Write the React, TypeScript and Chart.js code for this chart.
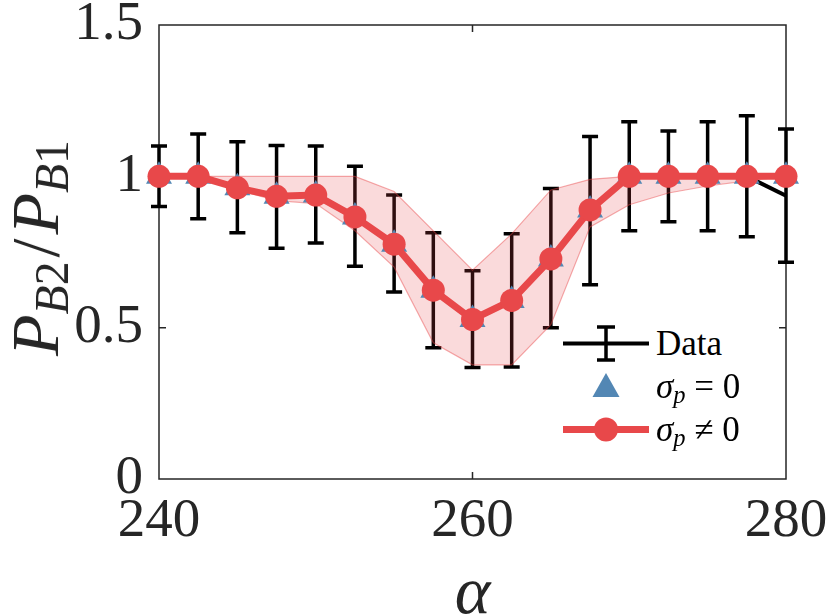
import { useEffect, useRef } from "react";
import { Chart, registerables } from "chart.js";

Chart.register(...registerables);

// alpha values along the x axis
const alphas = [240, 242.5, 245, 247.5, 250, 252.5, 255, 257.5, 260, 262.5, 265, 267.5, 270, 272.5, 275, 277.5, 280];
// measured data: mean and half error bar
const dataMean = [1.0, 1.0, 0.964, 0.932, 0.94, 0.868, 0.778, 0.624, 0.528, 0.59, 0.73, 0.887, 1.0, 1.0, 1.0, 1.0, 0.936];
const dataErr = [0.1, 0.14, 0.15, 0.17, 0.16, 0.165, 0.16, 0.19, 0.16, 0.22, 0.23, 0.245, 0.18, 0.15, 0.18, 0.2, 0.22];
// model with sigma_p = 0 (triangles)
const modelZero = [1.0, 1.0, 0.962, 0.934, 0.938, 0.866, 0.776, 0.624, 0.527, 0.59, 0.727, 0.889, 1.0, 1.0, 1.0, 1.0, 1.0];
// model with sigma_p != 0 (circles) and its shaded band
const modelSigma = [1.0, 1.0, 0.962, 0.934, 0.938, 0.866, 0.776, 0.624, 0.527, 0.59, 0.727, 0.889, 1.0, 1.0, 1.0, 1.0, 1.0];
const bandUpper = [1.0, 1.0, 1.0, 1.0, 1.0, 1.0, 0.95, 0.82, 0.69, 0.81, 0.955, 0.99, 1.0, 1.0, 1.0, 1.0, 1.0];
const bandLower = [1.0, 1.0, 0.955, 0.92, 0.91, 0.82, 0.7, 0.45, 0.377, 0.377, 0.51, 0.833, 0.906, 0.945, 0.968, 0.985, 1.0];

const xTicks = [240, 260, 280];
const yTicks = [0, 0.5, 1, 1.5];
const xMinorTicks = [260];
const yMinorTicks = [0.5, 1];

const RED = "#e8484a";
const BLUE = "#5387b4";
const AXIS = "#262626";
const SERIF = "'Liberation Serif', 'DejaVu Serif', serif";

const pts = (ys: number[]) => alphas.map((x, i) => ({ x, y: ys[i] }));

const framePlugin = {
  id: "frame",
  beforeDatasetsDraw(chart: any) {
    const { ctx, chartArea: a, scales } = chart;
    ctx.save();
    ctx.strokeStyle = AXIS;
    ctx.lineWidth = 1.5;
    ctx.strokeRect(a.left, a.top, a.right - a.left, a.bottom - a.top);
    const len = 7;
    ctx.beginPath();
    xMinorTicks.forEach((v) => {
      const px = scales.x.getPixelForValue(v);
      ctx.moveTo(px, a.bottom);
      ctx.lineTo(px, a.bottom - len);
      ctx.moveTo(px, a.top);
      ctx.lineTo(px, a.top + len);
    });
    yMinorTicks.forEach((v) => {
      const py = scales.y.getPixelForValue(v);
      ctx.moveTo(a.left, py);
      ctx.lineTo(a.left + len, py);
      ctx.moveTo(a.right, py);
      ctx.lineTo(a.right - len, py);
    });
    ctx.stroke();

    // error bars of the data
    ctx.strokeStyle = "#000";
    ctx.lineWidth = 3.5;
    ctx.lineCap = "butt";
    alphas.forEach((x, i) => {
      const px = scales.x.getPixelForValue(x);
      const top = scales.y.getPixelForValue(dataMean[i] + dataErr[i]);
      const bot = scales.y.getPixelForValue(dataMean[i] - dataErr[i]);
      ctx.beginPath();
      ctx.moveTo(px, top);
      ctx.lineTo(px, bot);
      ctx.moveTo(px - 8, top);
      ctx.lineTo(px + 8, top);
      ctx.moveTo(px - 8, bot);
      ctx.lineTo(px + 8, bot);
      ctx.stroke();
    });
    ctx.restore();
  },
};

export default function App() {
  const canvasRef = useRef<HTMLCanvasElement>(null);
  const chartRef = useRef<Chart | null>(null);

  useEffect(() => {
    document.body.style.margin = "0";
    if (!canvasRef.current) return;
    if (chartRef.current) chartRef.current.destroy();

    chartRef.current = new Chart(canvasRef.current, {
      type: "line",
      data: {
        datasets: [
          {
            label: "sigma_p != 0",
            data: pts(modelSigma),
            borderColor: RED,
            borderWidth: 7,
            pointRadius: 11.5,
            pointBackgroundColor: RED,
            pointBorderWidth: 0,
            fill: false,
            clip: false,
            order: 0,
          },
          {
            label: "sigma_p = 0",
            data: pts(modelZero),
            showLine: false,
            pointStyle: "triangle",
            pointRadius: 15,
            pointBackgroundColor: BLUE,
            pointBorderWidth: 0,
            fill: false,
            clip: false,
            order: 1,
          },
          {
            label: "band upper",
            data: pts(bandUpper),
            borderColor: "rgba(232,72,74,0.45)",
            borderWidth: 1.2,
            backgroundColor: "rgba(232,72,74,0.2)",
            pointRadius: 0,
            fill: "+1",
            order: 2,
          },
          {
            label: "band lower",
            data: pts(bandLower),
            borderColor: "rgba(232,72,74,0.45)",
            borderWidth: 1.2,
            pointRadius: 0,
            fill: false,
            order: 3,
          },
          {
            label: "Data",
            data: pts(dataMean),
            borderColor: "#000",
            borderWidth: 4,
            pointRadius: 0,
            fill: false,
            order: 4,
          },
        ],
      },
      options: {
        animation: false,
        responsive: true,
        maintainAspectRatio: false,
        layout: { padding: { left: 0, right: 44, top: 25, bottom: 0 } },
        plugins: {
          legend: { display: false },
          tooltip: { enabled: false },
        },
        scales: {
          x: {
            type: "linear",
            min: 240,
            max: 280,
            afterBuildTicks: (s: any) => {
              s.ticks = xTicks.map((value) => ({ value }));
            },
            afterFit: (s: any) => {
              s.height = 137;
              s.paddingLeft = 0;
              s.paddingRight = 0;
            },
            grid: { display: false, drawTicks: false },
            border: { display: false },
            ticks: {
              padding: 10,
              maxRotation: 0,
              color: AXIS,
              font: { family: SERIF, size: 55 },
              callback: (v: any) => String(v),
            },
          },
          y: {
            type: "linear",
            min: 0,
            max: 1.5,
            afterBuildTicks: (s: any) => {
              s.ticks = yTicks.map((value) => ({ value }));
            },
            afterFit: (s: any) => {
              s.width = 159;
              s.paddingTop = 0;
              s.paddingBottom = 0;
            },
            grid: { display: false, drawTicks: false },
            border: { display: false },
            ticks: {
              padding: 16,
              color: AXIS,
              font: { family: SERIF, size: 55 },
              callback: (v: any) => String(v),
            },
          },
        },
      },
      plugins: [framePlugin],
    });

    return () => {
      if (chartRef.current) {
        chartRef.current.destroy();
        chartRef.current = null;
      }
    };
  }, []);

  const sub = { fontSize: "0.7em", verticalAlign: "-0.22em", lineHeight: 0 } as const;
  const legendText = { fontFamily: SERIF, fontSize: 35, color: "#000", lineHeight: "43px", whiteSpace: "nowrap" } as const;

  return (
    <div style={{ position: "relative", width: 830, height: 616, background: "#fff" }}>
      <canvas ref={canvasRef} />
      <div
        style={{
          position: "absolute",
          left: 35,
          top: 248,
          transform: "translate(-50%, -50%) rotate(-90deg)",
          fontFamily: SERIF,
          fontSize: 68,
          color: AXIS,
          whiteSpace: "nowrap",
          lineHeight: 1,
        }}
      >
        <i>P</i>
        <span style={sub}>
          <i>B</i>2
        </span>
        <span style={{ margin: "0 0.06em" }}>/</span>
        <i>P</i>
        <span style={sub}>
          <i>B</i>1
        </span>
      </div>
      <div
        style={{
          position: "absolute",
          left: 159,
          width: 627,
          top: 556,
          textAlign: "center",
          fontFamily: SERIF,
          fontSize: 68,
          fontStyle: "italic",
          color: AXIS,
          lineHeight: 1,
        }}
      >
        α
      </div>
      <div style={{ position: "absolute", left: 560, top: 322, background: "#fff" }}>
        <div style={{ display: "flex", alignItems: "center", height: 43 }}>
          <svg width={96} height={43}>
            <line x1={3} y1={21.5} x2={89} y2={21.5} stroke="#000" strokeWidth={4} />
            <line x1={46} y1={5} x2={46} y2={38} stroke="#000" strokeWidth={3.5} />
            <line x1={37} y1={5} x2={55} y2={5} stroke="#000" strokeWidth={3.5} />
            <line x1={37} y1={38} x2={55} y2={38} stroke="#000" strokeWidth={3.5} />
          </svg>
          <span style={legendText}>Data</span>
        </div>
        <div style={{ display: "flex", alignItems: "center", height: 43 }}>
          <svg width={96} height={43}>
            <polygon points="46,8 59.5,32 32.5,32" fill={BLUE} />
          </svg>
          <span style={legendText}>
            <i>σ</i>
            <span style={sub}>
              <i>p</i>
            </span>
            {" = 0"}
          </span>
        </div>
        <div style={{ display: "flex", alignItems: "center", height: 43 }}>
          <svg width={96} height={43}>
            <line x1={3} y1={21.5} x2={89} y2={21.5} stroke={RED} strokeWidth={7} />
            <circle cx={46} cy={21.5} r={12} fill={RED} />
          </svg>
          <span style={legendText}>
            <i>σ</i>
            <span style={sub}>
              <i>p</i>
            </span>
            {" ≠ 0"}
          </span>
        </div>
      </div>
    </div>
  );
}
